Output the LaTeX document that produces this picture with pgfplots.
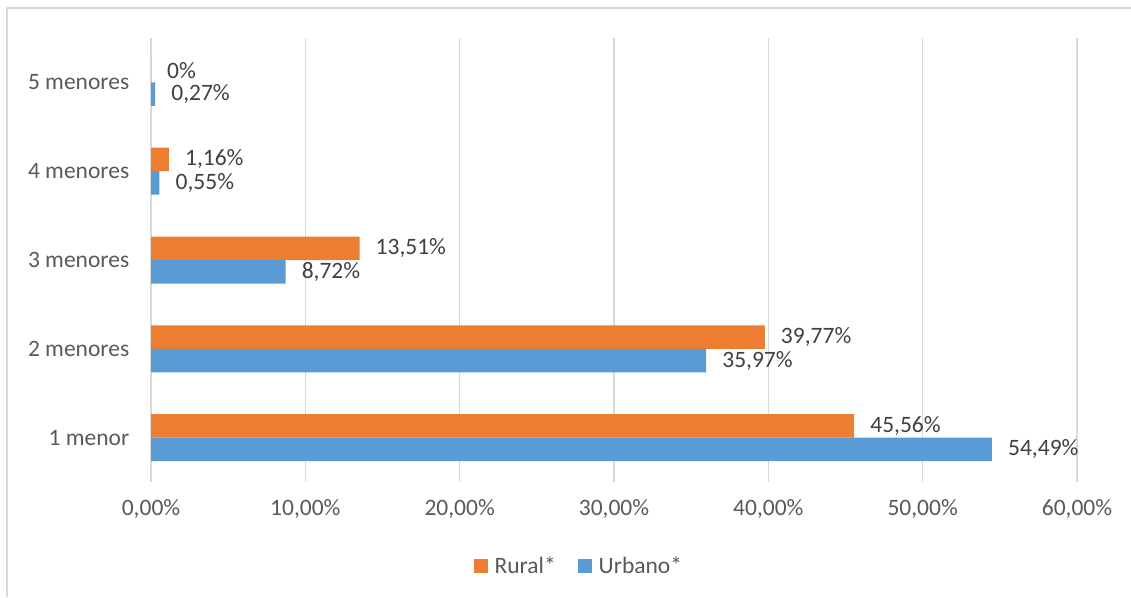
\documentclass[border=0pt]{standalone}
\usepackage{fontspec}
\setmainfont{Carlito}
\usepackage{pgfplots}
\usepackage{pgfplotstable}
\pgfplotsset{compat=1.18}
\definecolor{cOrange}{HTML}{ED7D31}
\definecolor{cBlue}{HTML}{5B9BD5}
\definecolor{cGrid}{HTML}{D9D9D9}
\definecolor{cTick}{HTML}{595959}
\definecolor{cLab}{HTML}{404040}
\pgfplotstableread{
y rural rlab urb ulab
1 45.56 45,56\% 54.49 54,49\%
2 39.77 39,77\% 35.97 35,97\%
3 13.51 13,51\% 8.72 8,72\%
4 1.16 1,16\% 0.55 0,55\%
5 0 0\% 0.27 0,27\%
}\data
\begin{document}
\begin{tikzpicture}
\path[use as bounding box] (0,0) rectangle (1131pt,597pt);
\draw[cGrid, line width=1.3pt] (7pt,0pt) -- (7pt,589pt) -- (1131pt,589pt);
\begin{axis}[
  at={(151pt,115pt)}, anchor=south west,
  scale only axis, width=926pt, height=444pt,
  xbar, bar width=23.5pt,
  xmin=0, xmax=60, ymin=0.5, ymax=5.5,
  xtick={0,10,20,30,40,50,60},
  xticklabels={{0,00\%},{10,00\%},{20,00\%},{30,00\%},{40,00\%},{50,00\%},{60,00\%}},
  ytick={1,2,3,4,5},
  yticklabels={1 menor,2 menores,3 menores,4 menores,5 menores},
  /pgf/number format/assume math mode=true,
  xmajorgrids, grid style={cGrid, line width=1.3pt},
  axis line style={draw=none}, major tick style={draw=none},
  ticklabel style={font=\fontsize{23.5}{28}\selectfont, text=cTick},
  xticklabel style={yshift=-14pt},
  yticklabel style={xshift=-14pt},
  point meta=explicit symbolic,
  nodes near coords,
  every node near coord/.append style={font=\fontsize{23.5}{28}\selectfont, text=cLab, anchor=west, inner sep=0pt, xshift=16pt},
  legend columns=2,
  legend style={at={(0.462,-0.189)}, anchor=center, draw=none, font=\fontsize{23.5}{28}\selectfont, text=cTick,
    /tikz/every odd column/.append style={column sep=5pt},
    /tikz/every even column/.append style={column sep=20pt}},
  legend image code/.code={\fill[#1] (0pt,-7pt) rectangle (14pt,7pt);},
]
\addplot[fill=cOrange, draw=none, bar shift=11.75pt] table[x=rural, y=y, meta=rlab] {\data};
\addlegendentry{Rural*}
\addplot[fill=cBlue, draw=none, bar shift=-11.75pt] table[x=urb, y=y, meta=ulab] {\data};
\addlegendentry{Urbano*}
\end{axis}
\end{tikzpicture}
\end{document}
